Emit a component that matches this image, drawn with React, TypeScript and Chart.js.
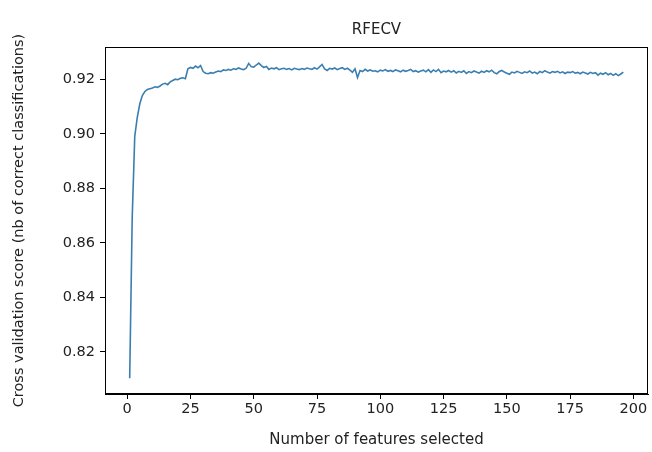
import React, { useEffect, useRef } from "react";
import { Chart, registerables } from "chart.js";

Chart.register(...registerables);

const TITLE = "RFECV";
const X_LABEL = "Number of features selected";
const Y_LABEL = "Cross validation score (nb of correct classifications)";

const scores: number[] = [
  0.8104, 0.8693, 0.8990, 0.9060, 0.9110, 0.9140, 0.9155, 0.9162, 0.9165, 0.9168,
  0.9172, 0.9170, 0.9175, 0.9182, 0.9185, 0.9180, 0.9190, 0.9195, 0.9200, 0.9198,
  0.9203, 0.9205, 0.9202, 0.9238, 0.9243, 0.9240, 0.9248, 0.9242, 0.9250, 0.9228,
  0.9222, 0.9220, 0.9224, 0.9222, 0.9226, 0.9230, 0.9228, 0.9234, 0.9232, 0.9236,
  0.9233, 0.9238, 0.9236, 0.9241, 0.9237, 0.9235, 0.9240, 0.9258, 0.9246, 0.9244,
  0.9252, 0.9259, 0.9250, 0.9243, 0.9247, 0.9236, 0.9241, 0.9238, 0.9242, 0.9235,
  0.9238, 0.9240, 0.9236, 0.9239, 0.9234, 0.9240, 0.9237, 0.9235, 0.9239, 0.9236,
  0.9241, 0.9238, 0.9236, 0.9242, 0.9237, 0.9245, 0.9254, 0.9238, 0.9232, 0.9240,
  0.9237, 0.9241, 0.9235, 0.9239, 0.9242, 0.9236, 0.9240, 0.9233, 0.9225, 0.9238,
  0.9206, 0.9232, 0.9228, 0.9236, 0.9230, 0.9234, 0.9229, 0.9231, 0.9227, 0.9233,
  0.9230, 0.9235, 0.9229, 0.9232, 0.9228, 0.9234, 0.9231, 0.9227, 0.9233, 0.9229,
  0.9232, 0.9236, 0.9228, 0.9231, 0.9226, 0.9230, 0.9233, 0.9227, 0.9235, 0.9225,
  0.9234, 0.9228, 0.9236, 0.9224, 0.9230, 0.9227, 0.9232, 0.9226, 0.9231, 0.9223,
  0.9229, 0.9225, 0.9231, 0.9221, 0.9228, 0.9224, 0.9230, 0.9226, 0.9222, 0.9229,
  0.9225, 0.9231, 0.9227, 0.9233, 0.9224, 0.9220, 0.9228, 0.9232, 0.9226, 0.9222,
  0.9218, 0.9226, 0.9223, 0.9229, 0.9225, 0.9221, 0.9227, 0.9224, 0.9230, 0.9222,
  0.9226, 0.9220, 0.9228, 0.9224, 0.9231, 0.9226, 0.9222, 0.9228, 0.9225, 0.9229,
  0.9223, 0.9227, 0.9221, 0.9226, 0.9224, 0.9228, 0.9222, 0.9225, 0.9220, 0.9226,
  0.9223, 0.9219, 0.9225, 0.9221, 0.9224, 0.9215, 0.9222, 0.9218, 0.9224, 0.9216,
  0.9221, 0.9214, 0.9220, 0.9213, 0.9219, 0.9226,
];

const featureCounts: number[] = scores.map((_, i) => i + 1);

const xTicks: number[] = [0, 25, 50, 75, 100, 125, 150, 175, 200];
const yTicks: number[] = [0.82, 0.84, 0.86, 0.88, 0.9, 0.92];

const X_MIN = -8.75;
const X_MAX = 205.75;
const Y_MIN = 0.8046;
const Y_MAX = 0.9318;

const FONT = "'DejaVu Sans', sans-serif";
const TEXT = "#222";

const framePlugin = {
  id: "frameAndTitle",
  afterDraw(chart: any) {
    const { ctx, chartArea } = chart;
    ctx.save();
    ctx.strokeStyle = "#000";
    ctx.lineWidth = 1;
    ctx.strokeRect(
      Math.round(chartArea.left) + 0.5,
      Math.round(chartArea.top) + 0.5,
      Math.round(chartArea.right - chartArea.left) - 1,
      Math.round(chartArea.bottom - chartArea.top) - 1
    );
    ctx.fillStyle = TEXT;
    ctx.font = `15px ${FONT}`;
    ctx.textAlign = "center";
    ctx.textBaseline = "middle";
    ctx.fillText(TITLE, (chartArea.left + chartArea.right) / 2, 30);
    ctx.restore();
  },
};

export default function App() {
  const canvasRef = useRef<HTMLCanvasElement | null>(null);

  useEffect(() => {
    if (!canvasRef.current) return;
    const chart = new Chart(canvasRef.current, {
      type: "line",
      data: {
        datasets: [
          {
            data: featureCounts.map((x, i) => ({ x, y: scores[i] })),
            borderColor: "#3a7fb0",
            borderWidth: 1.6,
            pointRadius: 0,
            tension: 0,
            fill: false,
          },
        ],
      },
      options: {
        responsive: false,
        animation: false,
        layout: { padding: { top: 47, right: 4, left: 0, bottom: 0 } },
        plugins: {
          legend: { display: false },
          title: { display: false },
          tooltip: { enabled: false },
        },
        scales: {
          x: {
            type: "linear",
            min: X_MIN,
            max: X_MAX,
            afterBuildTicks: (scale: any) => {
              scale.ticks = xTicks.map((v) => ({ value: v }));
            },
            afterFit: (scale: any) => {
              scale.height = 58;
            },
            ticks: {
              color: TEXT,
              font: { family: FONT, size: 14.5 },
              padding: 2,
              maxRotation: 0,
              autoSkip: false,
              callback: (v: any) => String(v),
            },
            grid: {
              display: true,
              drawOnChartArea: false,
              drawTicks: true,
              tickLength: 5,
              color: "#000",
            },
            border: { display: true, color: "#000" },
            title: {
              display: true,
              text: X_LABEL,
              color: TEXT,
              font: { family: FONT, size: 15 },
              padding: { top: 0, bottom: 3 },
            },
          },
          y: {
            type: "linear",
            min: Y_MIN,
            max: Y_MAX,
            afterBuildTicks: (scale: any) => {
              scale.ticks = yTicks.map((v) => ({ value: v }));
            },
            afterFit: (scale: any) => {
              scale.width = 105;
            },
            ticks: {
              color: TEXT,
              font: { family: FONT, size: 14.5 },
              padding: 5,
              autoSkip: false,
              callback: (v: any) => Number(v).toFixed(2),
            },
            grid: {
              display: true,
              drawOnChartArea: false,
              drawTicks: true,
              tickLength: 5,
              color: "#000",
            },
            border: { display: true, color: "#000" },
            title: {
              display: true,
              text: Y_LABEL,
              color: TEXT,
              font: { family: FONT, size: 14.5 },
              padding: { top: 11, bottom: 0 },
            },
          },
        },
      },
      plugins: [framePlugin],
    } as any);
    return () => chart.destroy();
  }, []);

  return (
    <div style={{ position: "fixed", left: 0, top: 0, width: 652, height: 452, background: "#fff" }}>
      <canvas ref={canvasRef} width={652} height={452} style={{ display: "block" }} />
    </div>
  );
}
